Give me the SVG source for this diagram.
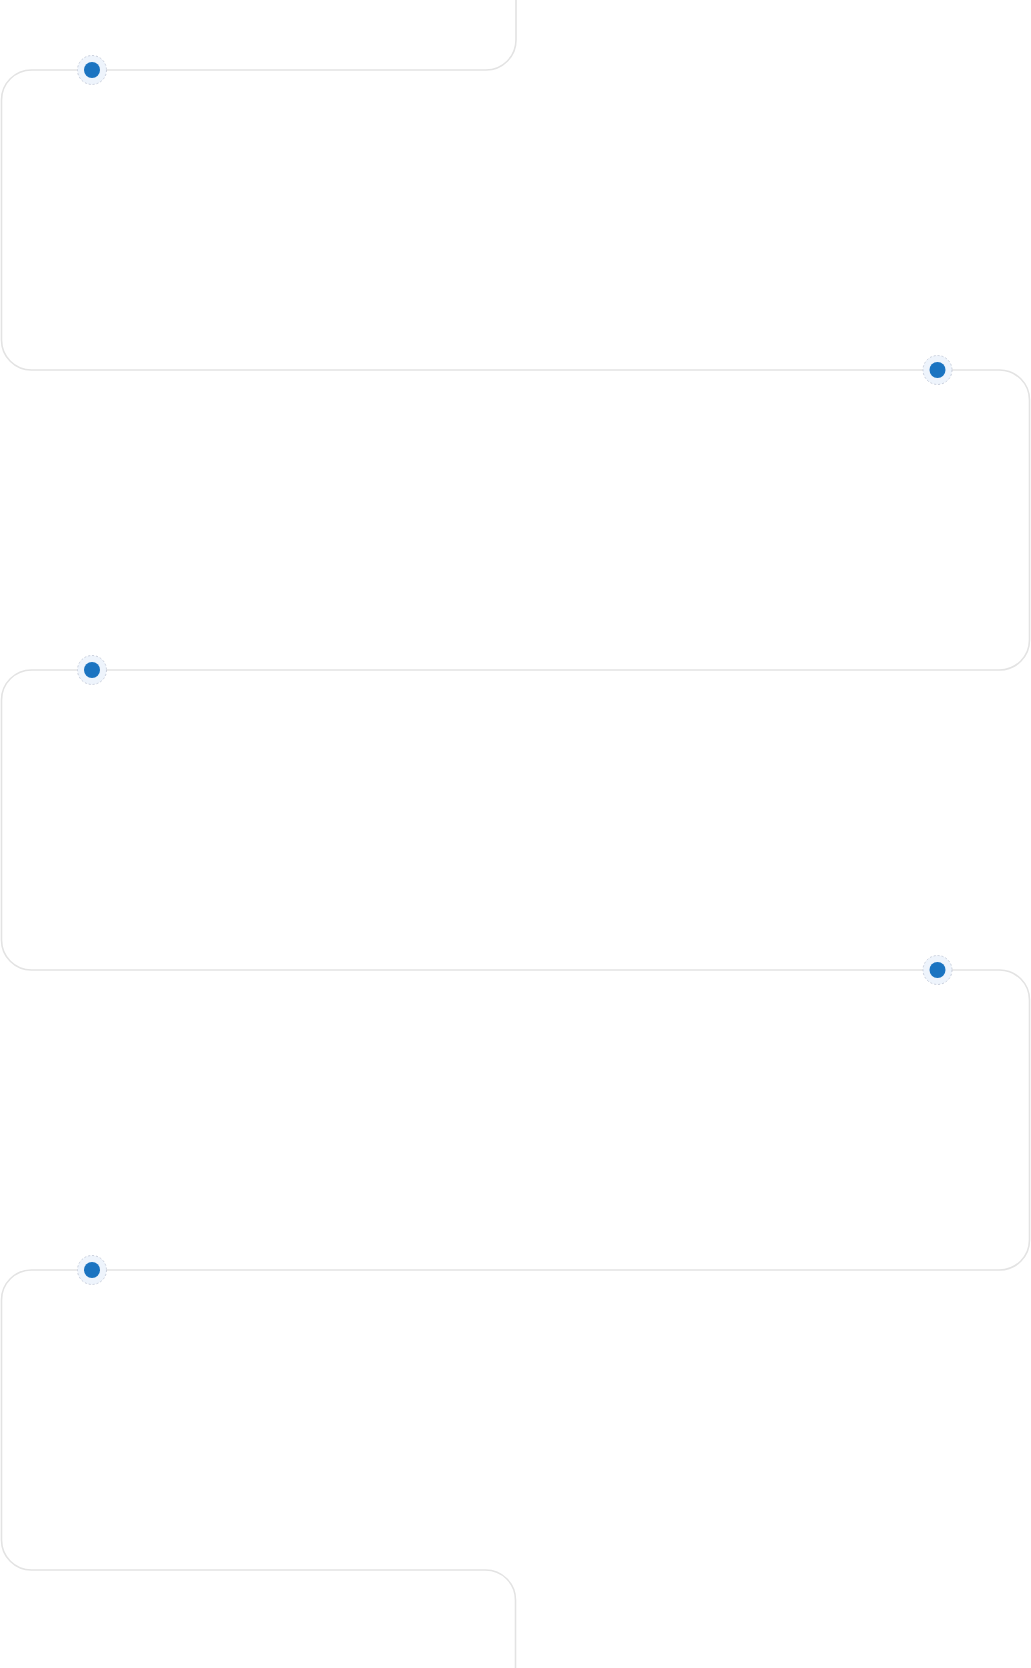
<svg xmlns="http://www.w3.org/2000/svg" width="1031" height="1668" viewBox="0 0 1031 1668">
<style>
.track{fill:none;stroke:#e3e3e3;stroke-width:1.6}
.halo{fill:#eef4fc;stroke:#c9cfdc;stroke-width:1;stroke-dasharray:2 2}
.dot{fill:#1b74c1}
</style>
<rect width="1031" height="1668" fill="#ffffff"/>
<g id="connectors">
<path class="track" d="M516,0 V40 A30,30 0 0 1 486,70 H31.5 A30,30 0 0 0 1.5,100 V340 A30,30 0 0 0 31.5,370 H999.5 A30,30 0 0 1 1029.5,400 V640 A30,30 0 0 1 999.5,670 H31.5 A30,30 0 0 0 1.5,700 V940 A30,30 0 0 0 31.5,970 H999.5 A30,30 0 0 1 1029.5,1000 V1240 A30,30 0 0 1 999.5,1270 H31.5 A30,30 0 0 0 1.5,1300 V1540 A30,30 0 0 0 31.5,1570 H485.5 A30,30 0 0 1 515.5,1600 V1668"/>
</g>
<g id="node1"><circle class="halo" cx="92" cy="70" r="14.5"/><circle class="dot" cx="92" cy="70" r="8"/></g>
<g id="node2"><circle class="halo" cx="937.5" cy="370" r="14.5"/><circle class="dot" cx="937.5" cy="370" r="8"/></g>
<g id="node3"><circle class="halo" cx="92" cy="670" r="14.5"/><circle class="dot" cx="92" cy="670" r="8"/></g>
<g id="node4"><circle class="halo" cx="937.5" cy="970" r="14.5"/><circle class="dot" cx="937.5" cy="970" r="8"/></g>
<g id="node5"><circle class="halo" cx="92" cy="1270" r="14.5"/><circle class="dot" cx="92" cy="1270" r="8"/></g>
</svg>
